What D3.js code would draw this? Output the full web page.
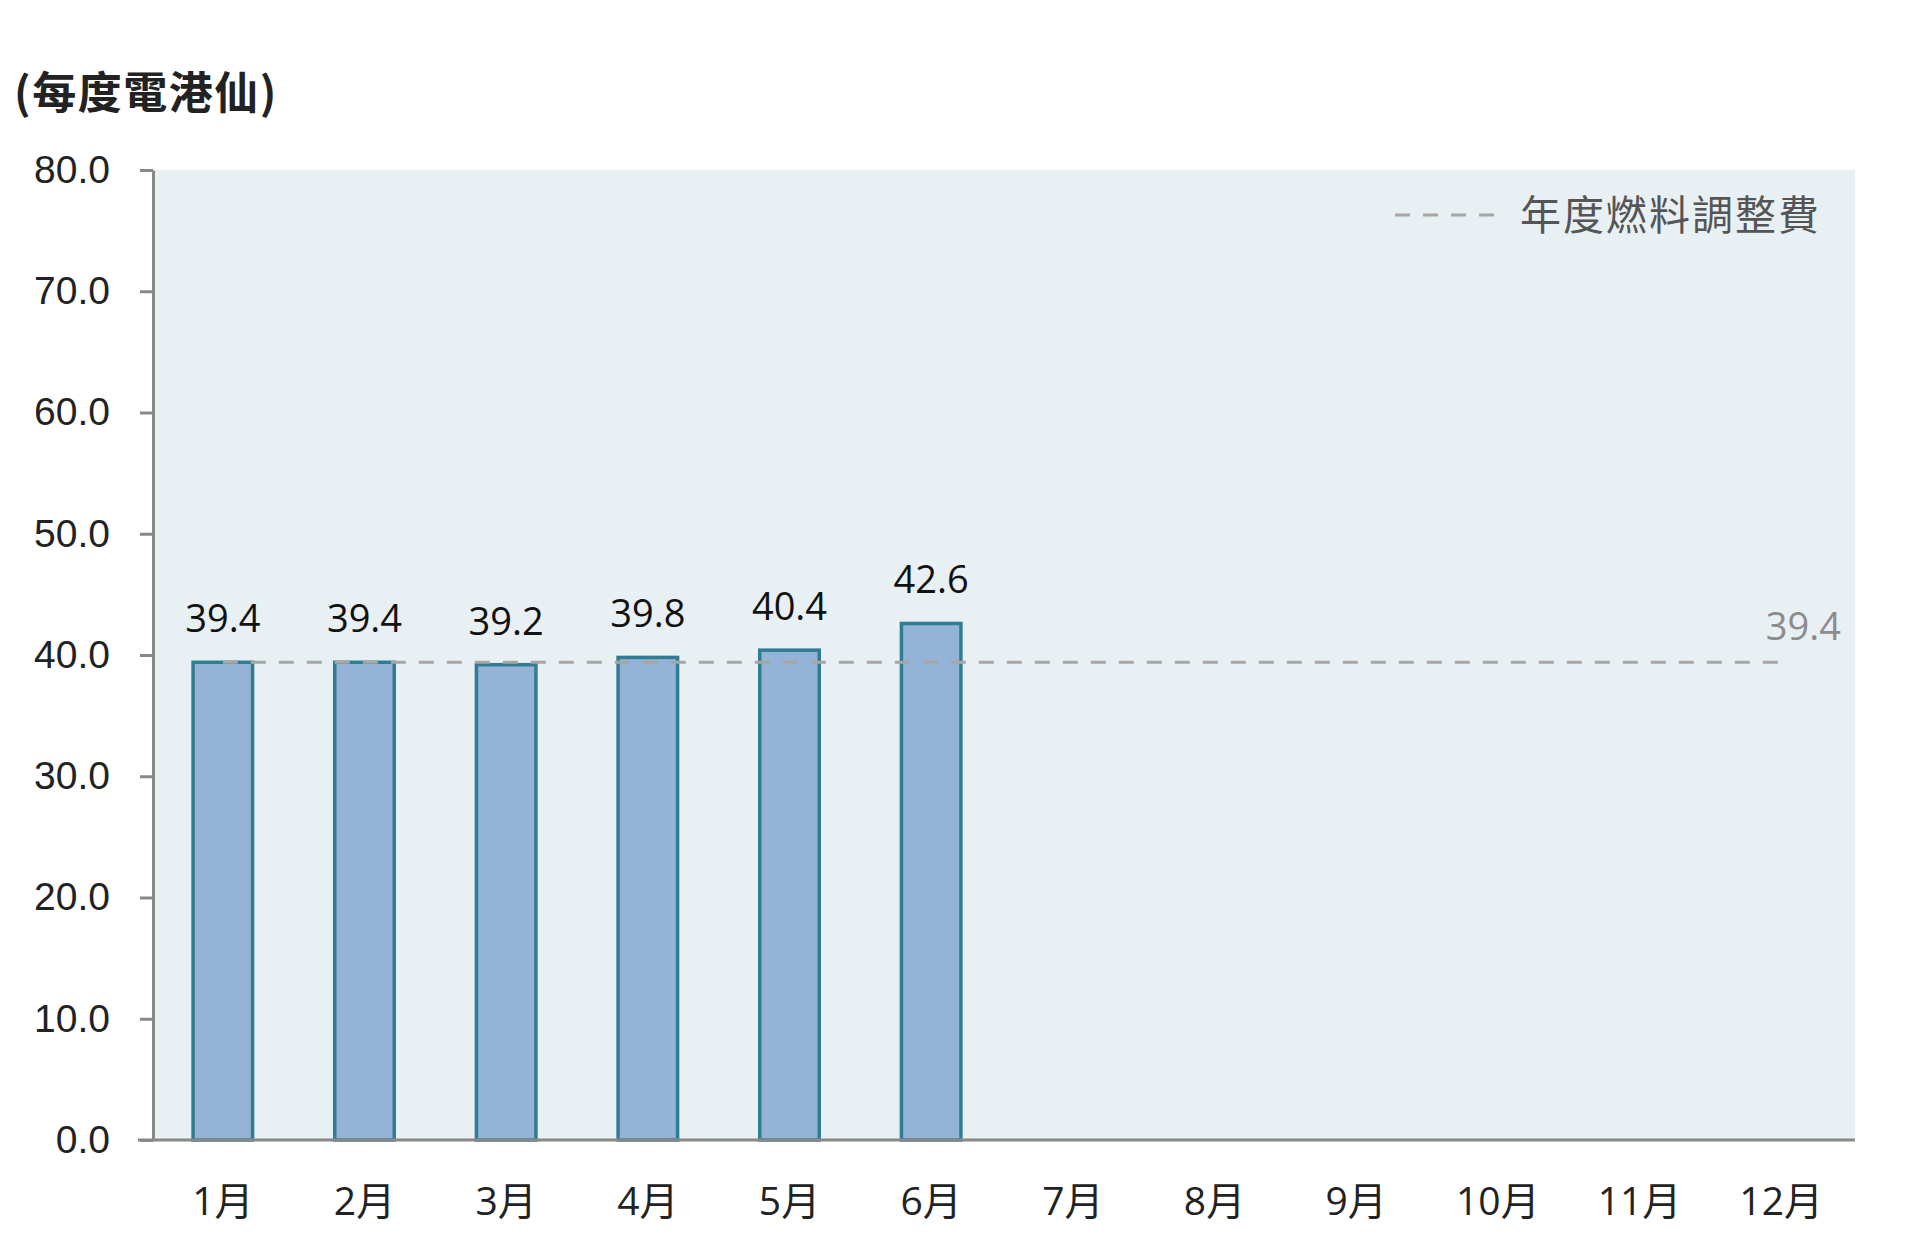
<!DOCTYPE html>
<html><head><meta charset="utf-8">
<script src="https://cdn.jsdelivr.net/npm/d3@7"></script>
<style>html,body{margin:0;padding:0;background:#fff;}svg{display:block;}</style>
</head><body>
<script>
const months = ["1月","2月","3月","4月","5月","6月","7月","8月","9月","10月","11月","12月"];
const values = [39.4, 39.4, 39.2, 39.8, 40.4, 42.6];
const annualValue = 39.4;
const yTicks = [0,10,20,30,40,50,60,70,80];
const unitLabel = "(每度電港仙)";
const legendLabel = "年度燃料調整費";

const W = 1920, H = 1251;
const m = {left:155, right:1855, top:170, bottom:1140};
const svg = d3.select("body").append("svg").attr("width",W).attr("height",H);

const x = d3.scaleBand().domain(months).range([m.left-3,m.right-3]).paddingInner(0.58).paddingOuter(0.29);
const xc = d3.scaleBand().domain(months).range([m.left-3,m.right-3]);
const y = d3.scaleLinear().domain([0,80]).range([m.bottom,m.top]);

// plot background
svg.append("rect").attr("x",m.left).attr("y",m.top).attr("width",m.right-m.left).attr("height",m.bottom-m.top).attr("fill","#e8f0f3");

// title
svg.append("text").attr("x",14).attr("y",109).text(unitLabel)
  .attr("font-family","'Noto Sans CJK TC','Noto Sans CJK SC',sans-serif").attr("font-weight","bold")
  .attr("font-size",44).attr("fill","#222").attr("letter-spacing",1.5);

// bars
const data = values.map((v,i)=>({m:months[i],v}));
svg.selectAll("rect.bar").data(data).enter().append("rect").attr("class","bar")
  .attr("x",d=>x(d.m)).attr("width",x.bandwidth())
  .attr("y",d=>y(d.v)).attr("height",d=>y(0)-y(d.v))
  .attr("fill","#95b3d7").attr("stroke","#2e7d92").attr("stroke-width",3.5);

// dashed annual line
svg.append("line")
  .attr("x1",xc(months[0])+xc.bandwidth()/2).attr("x2",xc(months[11])+xc.bandwidth()/2)
  .attr("y1",y(annualValue)).attr("y2",y(annualValue))
  .attr("stroke","#a6a6a6").attr("stroke-width",3).attr("stroke-dasharray","15,13");
svg.append("text").attr("x",m.right-14).attr("y",y(annualValue)-22).attr("text-anchor","end")
  .text(annualValue.toFixed(1)).attr("font-family","'Open Sans',sans-serif").attr("font-size",38).attr("fill","#8c8c8c");

// data labels
svg.selectAll("text.lab").data(data).enter().append("text").attr("class","lab")
  .attr("x",d=>x(d.m)+x.bandwidth()/2).attr("y",d=>y(d.v)-30).attr("text-anchor","middle")
  .text(d=>d.v.toFixed(1)).attr("font-family","'Open Sans',sans-serif").attr("font-size",38).attr("fill","#111");

// y axis
const yAxis = d3.axisLeft(y).tickValues(yTicks).tickFormat(d=>d.toFixed(1)).tickSize(13).tickSizeOuter(0).tickPadding(30);
const gy = svg.append("g").attr("transform",`translate(${m.left-2},0)`).call(yAxis);
gy.select(".domain").attr("stroke","#888").attr("stroke-width",3);
gy.selectAll(".tick line").attr("stroke","#888").attr("stroke-width",3);
gy.selectAll(".tick text").attr("font-family","'Liberation Sans',Arial,sans-serif").attr("font-size",39).attr("fill","#222");

// x axis
const xAxis = d3.axisBottom(xc).tickSize(0).tickPadding(40);
const gx = svg.append("g").attr("transform",`translate(0,${m.bottom})`).call(xAxis);
gx.select(".domain").remove();
gx.selectAll(".tick text").attr("font-family","'Open Sans','Noto Sans CJK TC',sans-serif").attr("font-size",39).attr("fill","#222").attr("dy","0.9em");
svg.append("line").attr("x1",m.left-17).attr("x2",m.right).attr("y1",m.bottom).attr("y2",m.bottom).attr("stroke","#888").attr("stroke-width",3);

// legend
const lg = svg.append("g");
lg.append("line").attr("x1",1395).attr("x2",1500).attr("y1",215).attr("y2",215)
  .attr("stroke","#a6a6a6").attr("stroke-width",3).attr("stroke-dasharray","15,13");
lg.append("text").attr("x",1520).attr("y",215).attr("dy","0.36em").text(legendLabel)
  .attr("font-family","'Noto Sans CJK TC',sans-serif").attr("font-size",41).attr("fill","#555").attr("letter-spacing",2);
</script>
</body></html>
